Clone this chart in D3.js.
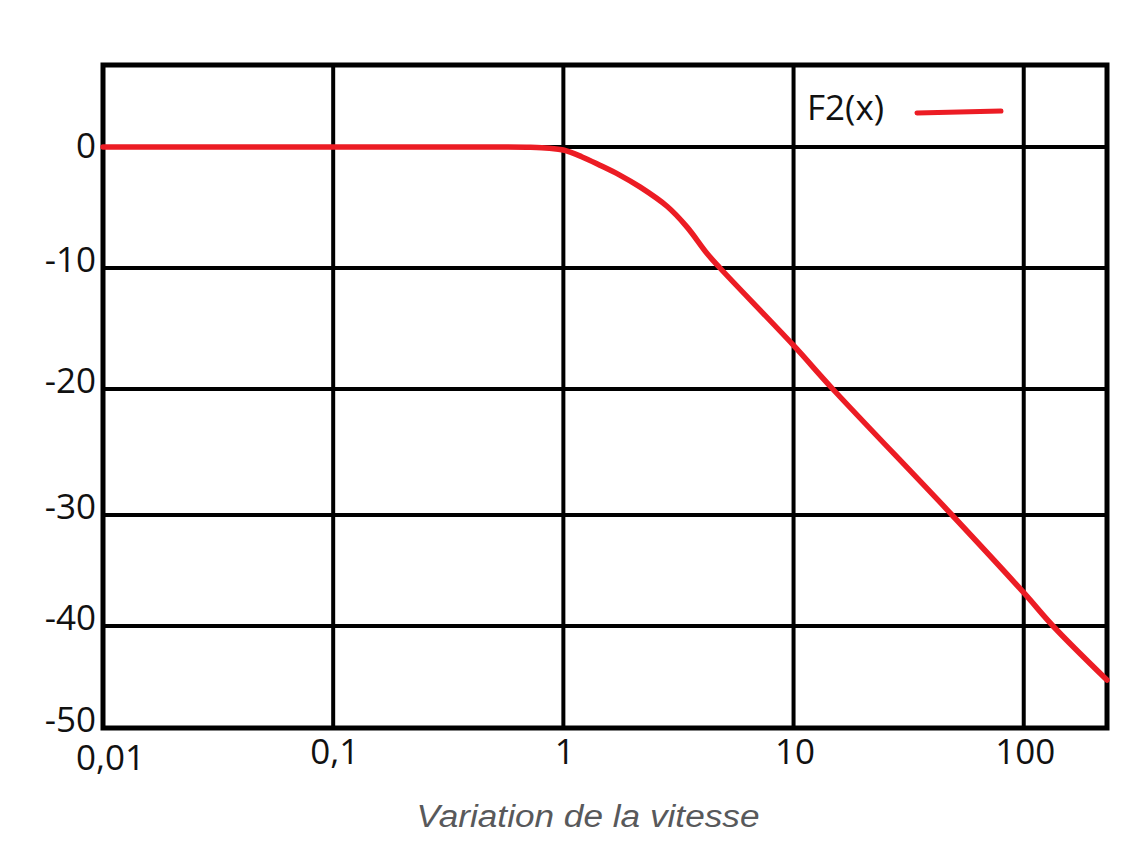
<!DOCTYPE html>
<html lang="fr">
<head>
    <meta charset="UTF-8">
    <title>F2(x)</title>
    <script src="https://cdn.jsdelivr.net/npm/d3@7"></script>
    <style>
        body { margin: 0; background: #fff; }
    </style>
</head>
<body>
<div id="mainContent"></div>
<script>
    // values
    const speedValues = [0.01, 0.435, 0.72, 0.87, 1, 1.2, 1.44, 1.75, 2.15, 2.82, 3.44, 4.21, 4.79, 10, 14.8, 48.8, 100, 134, 230];
    const gainValues = [0, 0, -0.03, -0.1, -0.25, -0.8, -1.5, -2.3, -3.3, -4.9, -6.6, -8.8, -10, -16.4, -20, -30, -37, -40, -45.3];

    const xTicks = [0.01, 0.1, 1, 10, 100];
    const xTickLabels = ["0,01", "0,1", "1", "10", "100"];
    const yTicks = [0, -10, -20, -30, -40, -50];
    const seriesName = "F2(x)";
    const xTitle = "Variation de la vitesse";

    const margin = {top: 65, right: 30, bottom: 132, left: 103},
        width = 1137 - margin.left - margin.right,
        height = 860 - margin.top - margin.bottom;

    const red = "#ec1c24";
    const labelFont = "'Open Sans', sans-serif";

    let xScale = d3.scaleLog()
        .domain([0.01, 230])
        .range([0, width]);

    // the grid of the original is hand drawn, rows are not evenly spaced
    let yScale = d3.scaleLinear()
        .domain([6.8, 0, -10, -20, -30, -40, -50])
        .range([0, 82, 203, 324, 450, 561, height]);

    let svg = d3.select("#mainContent")
        .append("svg")
        .attr("width", width + margin.left + margin.right)
        .attr("height", height + margin.top + margin.bottom);

    let g = svg.append("g")
        .attr("transform", "translate(" + margin.left + "," + margin.top + ")");

    // grid
    g.append("g").selectAll("line")
        .data(xTicks.slice(1)).enter()
        .append("line")
        .attr("x1", d => xScale(d)).attr("x2", d => xScale(d))
        .attr("y1", 0).attr("y2", height)
        .attr("stroke", "#000").attr("stroke-width", 4);

    g.append("g").selectAll("line")
        .data(yTicks.slice(0, -1)).enter()
        .append("line")
        .attr("x1", 0).attr("x2", width)
        .attr("y1", d => yScale(d)).attr("y2", d => yScale(d))
        .attr("stroke", "#000").attr("stroke-width", 4);

    // frame
    g.append("rect")
        .attr("x", 0).attr("y", 0)
        .attr("width", width).attr("height", height)
        .attr("fill", "none")
        .attr("stroke", "#000").attr("stroke-width", 5);

    // x axis labels
    const xAxis = d3.axisBottom(xScale)
        .tickValues(xTicks)
        .tickSize(0)
        .tickFormat((d, i) => xTickLabels[i]);
    let xAxisNodes = g.append("g")
        .attr("transform", "translate(0," + height + ")")
        .call(xAxis);
    xAxisNodes.select(".domain").remove();
    xAxisNodes.selectAll(".tick text")
        .attr("font-family", labelFont)
        .attr("font-size", 35)
        .attr("fill", "#111")
        .attr("dy", null)
        .attr("y", (d, i) => i === 0 ? 42 : 36)
        .attr("x", (d, i) => i === 0 ? 7 : 1);

    // y axis labels (plain hyphen like the original)
    const yAxis = d3.axisLeft(yScale)
        .tickValues(yTicks)
        .tickSize(0)
        .tickPadding(7)
        .tickFormat(d => String(d));
    let yAxisNodes = g.append("g").call(yAxis);
    yAxisNodes.select(".domain").remove();
    yAxisNodes.selectAll(".tick text")
        .attr("font-family", labelFont)
        .attr("font-size", 35)
        .attr("fill", "#111")
        .attr("dy", null)
        .attr("y", d => d === 0 ? 10 : 3);

    // curve
    const lineGen = d3.line()
        .x((d, i) => xScale(speedValues[i]))
        .y(d => yScale(d))
        .curve(d3.curveCatmullRom.alpha(0.5));

    g.append("path")
        .datum(gainValues)
        .attr("d", lineGen)
        .attr("fill", "none")
        .attr("stroke", red)
        .attr("stroke-width", 5.5)
        .attr("stroke-linecap", "round");

    // legend
    let legend = g.append("g")
        .attr("transform", "translate(" + (width - 300) + ",47)");
    legend.append("text").text(seriesName)
        .attr("x", 0).attr("y", 8)
        .attr("font-family", labelFont)
        .attr("font-size", 35)
        .attr("fill", "#111");
    legend.append("line")
        .attr("x1", 110).attr("x2", 194)
        .attr("y1", 1).attr("y2", -1)
        .attr("stroke", red).attr("stroke-width", 5)
        .attr("stroke-linecap", "round");

    // axis title
    svg.append("text").text(xTitle)
        .attr("x", 588).attr("y", 827)
        .attr("text-anchor", "middle")
        .attr("font-family", "'Liberation Sans', Arial, sans-serif")
        .attr("font-style", "italic")
        .attr("font-size", 31)
        .attr("textLength", 343)
        .attr("lengthAdjust", "spacingAndGlyphs")
        .attr("fill", "#58595b");
</script>
</body>
</html>
